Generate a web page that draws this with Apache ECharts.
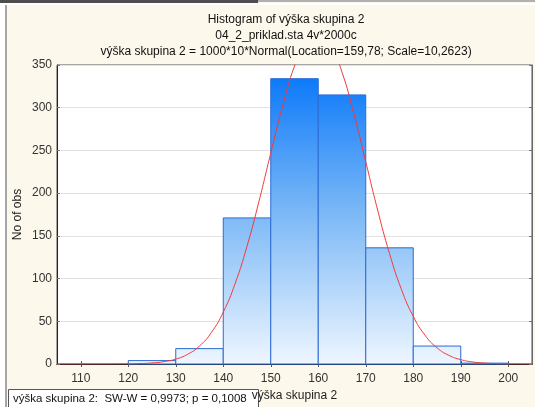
<!DOCTYPE html>
<html><head><meta charset="utf-8">
<script src="https://cdn.jsdelivr.net/npm/echarts@6/dist/echarts.min.js"></script>
<style>html,body{margin:0;padding:0;background:#fdf8ec;overflow:hidden}#c{width:535px;height:407px}</style>
</head><body><div id="c"></div>
<script>
const titleLines = [
  'Histogram of výška skupina 2',
  '04_2_priklad.sta 4v*2000c',
  'výška skupina 2 = 1000*10*Normal(Location=159,78; Scale=10,2623)'
];
const binStarts = [110, 120, 130, 140, 150, 160, 170, 180, 190];
const binCounts = [0, 4, 18, 171, 334, 315, 136, 21, 1];
const binWidth = 10;
const xTickValues = [110, 120, 130, 140, 150, 160, 170, 180, 190, 200];
const curveX = [105, 107.5, 110, 112.5, 115, 117.5, 120, 122.5, 125, 127.5, 130, 132.5, 135, 137.5, 140, 142.5, 145, 147.5, 150, 152.5, 155, 157.5, 160, 162.5, 165, 167.5, 170, 172.5, 175, 177.5, 180, 182.5, 185, 187.5, 190, 192.5, 195, 197.5, 200, 202.5, 205];
const curveY = [0.0003, 0.001, 0.003, 0.0096, 0.028, 0.08, 0.21, 0.53, 1.24, 2.76, 5.77, 11.36, 21.07, 36.82, 60.67, 94.19, 137.8, 190.0, 246.9, 302.3, 348.8, 379.3, 388.65, 375.3, 341.6, 292.9, 236.7, 180.3, 129.4, 87.5, 55.8, 33.5, 18.97, 10.12, 5.09, 2.41, 1.08, 0.45, 0.18, 0.067, 0.024];
const xAxisName = 'výška skupina 2';
const yAxisName = 'No of obs';
const statText = 'výška skupina 2:  SW-W = 0,9973; p = 0,1008';

const FONT = '"Liberation Sans", Arial, sans-serif';
const chart = echarts.init(document.getElementById('c'), null, {renderer: 'canvas'});

const barData = binStarts.map((s, i) => [s, s + binWidth, binCounts[i]]);
const curveData = curveX.map((x, i) => [x, curveY[i]]);

const yMin = 0, yMax = 350;

chart.setOption({
  backgroundColor: '#fdf8ec',
  animation: false,
  textStyle: {fontFamily: FONT},
  title: {
    text: titleLines.join('\n'),
    left: 281, top: 7, textAlign: 'center',
    textStyle: {fontFamily: FONT, fontSize: 12, fontWeight: 'normal', color: '#111', lineHeight: 16}
  },
  grid: {left: 57, right: 3, top: 65, bottom: 41, show: true, backgroundColor: '#ffffff', borderColor: '#555', borderWidth: 1},
  xAxis: [{
    type: 'value', min: 105, max: 205, position: 'bottom',
    name: xAxisName, nameLocation: 'middle', nameGap: 26, nameMoveOverlap: false,
    nameTextStyle: {fontFamily: FONT, fontSize: 12, color: '#222'},
    axisLine: {show: true, lineStyle: {color: '#222', width: 1}},
    axisTick: {show: true, inside: true, length: 3, customValues: xTickValues, lineStyle: {color: '#555'}},
    axisLabel: {customValues: xTickValues, fontFamily: FONT, fontSize: 12, color: '#333', margin: 9},
    splitLine: {show: false}
  }, {
    type: 'value', min: 105, max: 205, position: 'top',
    axisLine: {show: true, lineStyle: {color: '#222', width: 1}},
    axisTick: {show: true, inside: true, length: 3, customValues: xTickValues, lineStyle: {color: '#555'}},
    axisLabel: {show: false},
    splitLine: {show: false}
  }],
  yAxis: [{
    type: 'value', min: yMin, max: yMax, interval: 50, position: 'left',
    name: yAxisName, nameLocation: 'middle', nameGap: 33, nameMoveOverlap: false,
    nameTextStyle: {fontFamily: FONT, fontSize: 12, color: '#222'},
    axisLine: {show: true, lineStyle: {color: '#222', width: 1}},
    axisTick: {show: true, inside: true, length: 3, lineStyle: {color: '#777'}},
    axisLabel: {fontFamily: FONT, fontSize: 12, color: '#333', margin: 5},
    splitLine: {show: true, lineStyle: {color: '#e2e2e2', width: 1}}
  }, {
    type: 'value', min: yMin, max: yMax, interval: 50, position: 'right',
    axisLine: {show: true, lineStyle: {color: '#666', width: 1}},
    axisTick: {show: true, inside: true, length: 3, lineStyle: {color: '#777'}},
    axisLabel: {show: false},
    splitLine: {show: false}
  }],
  series: [{
    type: 'custom',
    xAxisIndex: 0, yAxisIndex: 0,
    data: barData,
    encode: {x: [0, 1], y: 2},
    renderItem: function (params, api) {
      const x0 = api.value(0), x1 = api.value(1), v = api.value(2);
      if (!(v > 0)) return null;
      const pTop = api.coord([x0, v]);
      const pBase = api.coord([x1, 0]);
      const gTop = api.coord([x0, yMax])[1];
      return {
        type: 'rect',
        shape: {x: pTop[0], y: pTop[1], width: pBase[0] - pTop[0], height: pBase[1] - pTop[1]},
        style: {
          fill: new echarts.graphic.LinearGradient(0, gTop, 0, pBase[1], [
            {offset: 0, color: '#0374fa'},
            {offset: 0.5, color: '#7db9f6'},
            {offset: 1, color: '#eef6ff'}
          ], true),
          stroke: '#2c6bd4', lineWidth: 1
        }
      };
    },
    z: 2
  }, {
    type: 'line',
    xAxisIndex: 0, yAxisIndex: 0,
    data: curveData,
    smooth: true, showSymbol: false, clip: true,
    lineStyle: {color: '#f03a3a', width: 1},
    z: 3
  }],
  graphic: [
    {type: 'rect', left: 0, top: 0, shape: {width: 258, height: 3}, style: {fill: '#4d4d4d'}, z: 100},
    {type: 'rect', left: 258, top: 0, shape: {width: 277, height: 2}, style: {fill: '#b0b0b0'}, z: 100},
    {type: 'rect', left: 0, top: 3, shape: {width: 535, height: 2}, style: {fill: '#ffffff'}, z: 100},
    {type: 'rect', left: 0, top: 3, shape: {width: 5, height: 404}, style: {fill: '#ffffff'}, z: 100},
    {type: 'rect', left: 5, top: 5, shape: {width: 2, height: 402}, style: {fill: '#a6a6a6'}, z: 100},
    {type: 'group', left: 8, top: 389, z: 100, children: [
      {type: 'rect', shape: {x: 0.5, y: 0.5, width: 250, height: 22}, style: {fill: '#ffffff', stroke: '#555', lineWidth: 1}},
      {type: 'text', x: 5, y: 10, style: {text: statText, font: '11.5px ' + FONT, fill: '#111', textVerticalAlign: 'middle'}}
    ]}
  ]
});
</script>
</body></html>
